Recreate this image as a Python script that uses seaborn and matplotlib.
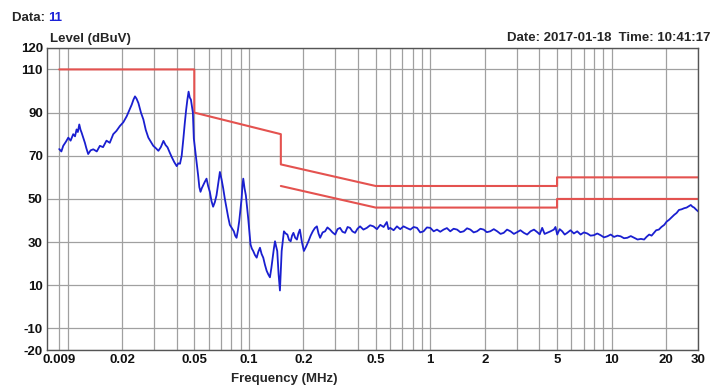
import pandas as pd
import matplotlib
matplotlib.use("Agg")
import matplotlib.pyplot as plt
import seaborn as sns

freq_mhz = [
    0.0090, 0.00925, 0.00947, 0.0098, 0.0101, 0.0104, 0.01075, 0.0110, 0.01122, 0.0114,
    0.01161, 0.0118, 0.01195, 0.0122, 0.01247, 0.0127, 0.0130, 0.0134, 0.01387, 0.0145,
    0.01508, 0.0157, 0.0164, 0.0171, 0.01787, 0.0186, 0.01945, 0.0203, 0.0212, 0.0219,
    0.0226, 0.0231, 0.02355, 0.0240, 0.0246, 0.0254, 0.0262, 0.0270, 0.0279, 0.0288,
    0.0297, 0.0307, 0.0317, 0.0327, 0.0338, 0.0347, 0.0356, 0.0366, 0.0376, 0.0388,
    0.0400, 0.0408, 0.0417, 0.0426, 0.0435, 0.0443, 0.0451, 0.0458, 0.0465, 0.0472,
    0.0479, 0.0485, 0.0491, 0.0497, 0.0510, 0.0525, 0.0533, 0.0541, 0.0550, 0.0560,
    0.0572, 0.0584, 0.0596, 0.0609, 0.0622, 0.0635, 0.0649, 0.0663, 0.0677, 0.0692,
    0.0707, 0.0722, 0.0737, 0.0753, 0.0769, 0.0785, 0.0805, 0.0826, 0.0840, 0.0855,
    0.0870, 0.0884, 0.0898, 0.0912, 0.0921, 0.0931, 0.0946, 0.0962, 0.0991, 0.1021,
    0.1038, 0.1056, 0.1080, 0.1104, 0.1127, 0.1151, 0.1175, 0.1200, 0.1226, 0.1253,
    0.1280, 0.1306, 0.1330, 0.1352, 0.1373, 0.1393, 0.1413, 0.1433, 0.1458, 0.1483,
    0.1516, 0.156, 0.1595, 0.163, 0.1665, 0.170, 0.173, 0.176, 0.180, 0.184,
    0.1875, 0.191, 0.196, 0.201, 0.207, 0.213, 0.219, 0.225, 0.231, 0.237,
    0.242, 0.247, 0.255, 0.263, 0.271, 0.280, 0.289, 0.299, 0.308, 0.318,
    0.328, 0.339, 0.350, 0.361, 0.372, 0.385, 0.397, 0.410, 0.428, 0.447,
    0.466, 0.486, 0.508, 0.530, 0.553, 0.576, 0.588, 0.601, 0.628, 0.655,
    0.683, 0.712, 0.744, 0.776, 0.810, 0.845, 0.880, 0.918, 0.958, 1.0,
    1.044, 1.089, 1.135, 1.184, 1.235, 1.289, 1.345, 1.405, 1.465, 1.528,
    1.595, 1.664, 1.735, 1.81, 1.89, 1.97, 2.05, 2.14, 2.24, 2.34,
    2.44, 2.54, 2.65, 2.77, 2.89, 3.01, 3.14, 3.28, 3.42, 3.57,
    3.73, 3.89, 4.01, 4.14, 4.27, 4.41, 4.60, 4.80, 4.90, 5.01,
    5.17, 5.34, 5.51, 5.69, 5.93, 6.19, 6.46, 6.74, 7.03, 7.34,
    7.65, 7.98, 8.33, 8.69, 9.07, 9.47, 9.88, 10.3, 10.75, 11.2,
    11.7, 12.2, 12.75, 13.3, 13.9, 14.5, 15.1, 15.6, 16.1, 16.6,
    17.1, 17.6, 18.2, 18.8, 19.5, 20.1, 20.7, 21.4, 22.1, 22.8,
    23.5, 24.3, 25.1, 25.9, 26.7, 27.3, 27.9, 28.5, 29.1, 30.0,
]
level_dbuv = [
    73.1, 72.0, 74.6, 76.5, 78.4, 77.0, 80.0, 79.0, 82.2, 81.0,
    84.5, 82.0, 80.8, 78.5, 76.0, 73.5, 70.8, 72.5, 73.0, 72.0,
    74.6, 74.0, 77.0, 76.0, 80.0, 81.5, 83.8, 85.5, 88.3, 91.0,
    93.7, 96.0, 97.5, 96.5, 94.4, 90.0, 86.8, 82.0, 78.4, 76.5,
    74.6, 73.5, 72.3, 74.0, 76.9, 75.0, 73.9, 71.5, 69.3, 67.0,
    65.2, 66.5, 66.3, 70.0, 77.7, 85.0, 91.4, 96.0, 99.7, 97.0,
    96.0, 93.0, 90.0, 78.0, 70.0, 60.9, 55.5, 53.3, 55.0, 56.4,
    58.0, 59.4, 56.0, 53.3, 49.0, 46.4, 48.5, 51.7, 57.0, 62.5,
    59.0, 54.8, 50.0, 45.7, 41.5, 38.0, 36.5, 35.0, 33.0, 32.0,
    35.5, 39.6, 45.0, 50.3, 56.0, 59.4, 55.0, 51.7, 41.1, 28.9,
    27.0, 25.9, 24.0, 22.8, 25.5, 27.4, 24.5, 22.8, 19.5, 16.7,
    15.0, 13.7, 18.0, 22.8, 27.0, 30.4, 28.0, 25.9, 15.0, 7.6,
    25.9, 35.0, 34.0, 33.5, 31.0, 30.4, 33.0, 34.3, 32.0, 31.2,
    34.0, 35.8, 30.0, 25.9, 28.0, 30.4, 33.0, 35.0, 36.5, 37.3,
    34.0, 32.0, 34.5, 35.0, 36.8, 35.8, 34.5, 33.5, 36.0, 36.6,
    34.8, 34.3, 37.0, 36.6, 35.0, 34.3, 36.2, 37.3, 35.8, 36.6,
    37.8, 37.3, 36.0, 38.0, 37.0, 39.3, 36.0, 36.6, 35.5, 37.3,
    36.0, 37.3, 36.5, 35.8, 37.0, 36.6, 34.5, 35.0, 36.8, 36.6,
    35.0, 35.8, 34.8, 35.8, 36.5, 35.0, 36.2, 35.8, 34.6, 35.0,
    36.4, 35.8, 34.5, 35.0, 36.2, 35.8, 34.6, 35.0, 36.0, 35.0,
    33.8, 34.3, 35.8, 35.0, 33.8, 34.6, 35.5, 34.3, 33.5, 35.0,
    35.8, 34.6, 33.6, 36.6, 33.8, 34.3, 35.0, 35.8, 37.0, 33.5,
    36.0, 35.0, 33.5, 34.3, 35.5, 34.0, 35.0, 33.5, 34.5, 34.0,
    33.0, 33.2, 34.0, 33.2, 32.2, 32.7, 33.5, 32.4, 33.0, 32.7,
    31.8, 32.0, 32.8, 32.0, 31.2, 31.5, 31.2, 32.5, 33.5, 33.0,
    34.3, 35.5, 35.8, 37.0, 38.0, 39.5, 40.3, 41.5, 42.6, 43.5,
    44.9, 45.2, 45.7, 46.0, 46.7, 47.2, 46.4, 46.0, 45.2, 44.2,
]

# Limit lines (upper / lower)
upper_freq = [0.009, 0.05, 0.05, 0.15, 0.15, 0.5, 5.0, 5.0, 30.0]
upper_level = [110, 110, 90, 80, 66, 56, 56, 60, 60]
lower_freq = [0.15, 0.5, 5.0, 5.0, 30.0]
lower_level = [56, 46, 46, 50, 50]

x_ticks = [0.009, 0.02, 0.05, 0.1, 0.2, 0.5, 1, 2, 5, 10, 20, 30]
x_tick_labels = ["0.009", "0.02", "0.05", "0.1", "0.2", "0.5", "1", "2", "5", "10", "20", "30"]
x_minor = [0.01, 0.03, 0.04, 0.06, 0.07, 0.08, 0.09, 0.3, 0.4, 0.6, 0.7, 0.8, 0.9,
           3, 4, 6, 7, 8, 9]
y_ticks = [-20, -10, 10, 30, 50, 70, 90, 110, 120]

sns.set_theme(style="white")
plt.rcParams["font.family"] = ["Liberation Sans", "DejaVu Sans"]
plt.rcParams["font.weight"] = "bold"

trace = pd.DataFrame({"freq": freq_mhz, "level": level_dbuv})
upper = pd.DataFrame({"freq": upper_freq, "level": upper_level})
lower = pd.DataFrame({"freq": lower_freq, "level": lower_level})

fig = plt.figure(figsize=(7.11, 3.92), dpi=100)
ax = fig.add_axes([0.066, 0.107, 0.916, 0.771])

red = "#e4524f"
sns.lineplot(data=upper, x="freq", y="level", sort=False, estimator=None,
             color=red, lw=1.5, ax=ax)
sns.lineplot(data=lower, x="freq", y="level", sort=False, estimator=None,
             color=red, lw=1.5, ax=ax)
sns.lineplot(data=trace, x="freq", y="level", sort=False, estimator=None,
             color="#1a1fd0", lw=1.3, ax=ax)

ax.set_xscale("log")
ax.set_xlim(0.0077, 30)
ax.set_ylim(-20, 120)
ax.set_xticks(x_ticks)
ax.set_xticklabels(x_tick_labels)
ax.set_xticks(x_minor, minor=True)
ax.set_xticklabels([], minor=True)
ax.set_yticks(y_ticks)
ax.set_yticklabels([str(v) for v in y_ticks])
ax.tick_params(axis="both", which="both", length=0, labelsize=9.5, pad=3,
               labelcolor="#111111")
ax.grid(True, which="both", color="#a0a0a0", lw=0.9)
ax.set_axisbelow(True)
for s in ax.spines.values():
    s.set_color("#555555")
    s.set_linewidth(1.0)

ax.set_xlabel("Frequency (MHz)", fontsize=9.5, fontweight="bold", labelpad=2)
ax.xaxis.set_label_coords(0.365, -0.075)
ax.set_ylabel("")

fig.text(0.071, 0.885, "Level (dBuV)", fontsize=9.5, fontweight="bold", va="bottom")
fig.text(0.999, 0.888, "Date: 2017-01-18  Time: 10:41:17", fontsize=9.5,
         fontweight="bold", ha="right", va="bottom")
fig.text(0.017, 0.955, "Data: ", fontsize=9.5, fontweight="bold", va="center")
fig.text(0.068, 0.955, "11", fontsize=9.5, fontweight="bold", va="center",
         color="#1c22d8")

fig.savefig("out.png", dpi=100)
